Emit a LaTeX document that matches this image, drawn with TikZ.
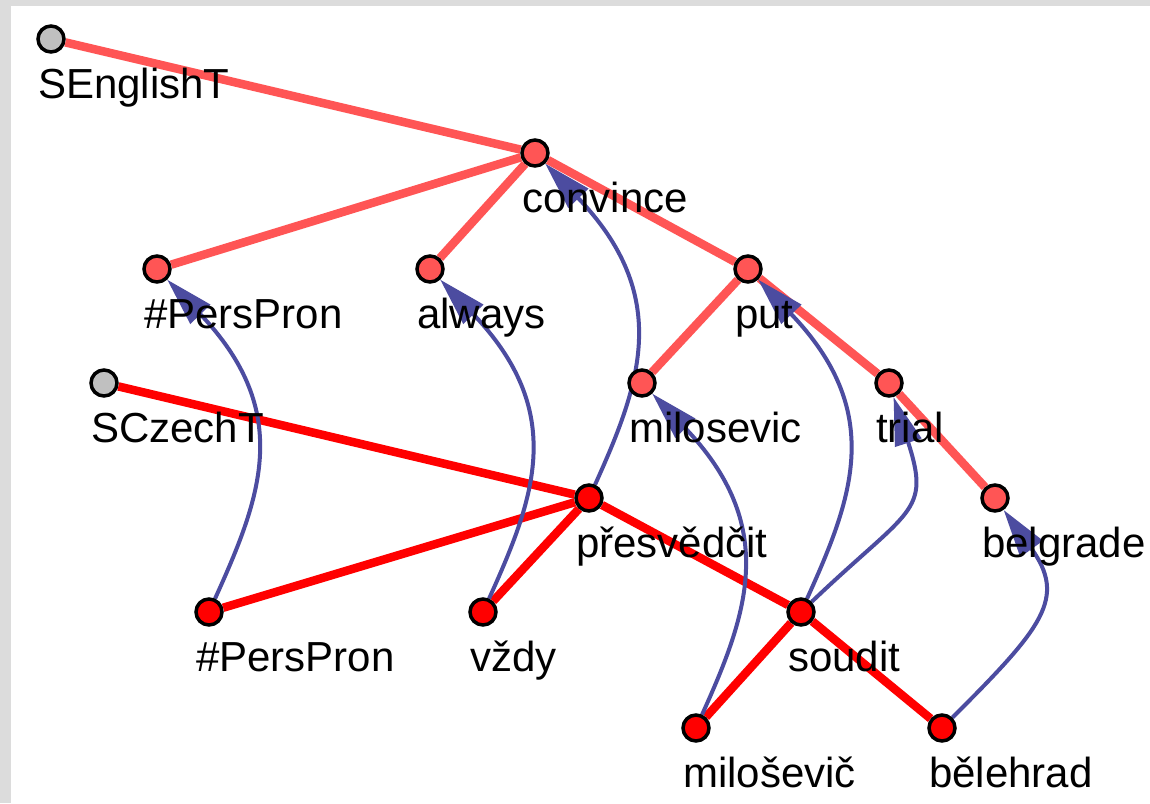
\documentclass[tikz,border=0pt]{standalone}
\usepackage{fontspec}
\setmainfont{Liberation Sans}
\usetikzlibrary{arrows.meta}
\definecolor{enred}{RGB}{255,85,85}
\definecolor{czred}{RGB}{255,0,0}
\definecolor{rootgray}{RGB}{192,192,192}
\definecolor{alblue}{RGB}{76,76,160}
\definecolor{framegray}{RGB}{220,220,220}
\pgfdeclarelayer{bg}
\pgfdeclarelayer{lines}
\pgfsetlayers{bg,lines,main}
\newcommand\treenode[5]{%
  \node[#1] (#2) at (#3,#4) {};
  \node[lbl] (#2-l) at (#3-13,#4+59) {#5};}
\begin{document}
\begin{tikzpicture}[x=1pt,y=-1pt,
  tnode/.style={circle, draw=black, line width=3.5pt, minimum size=26pt, inner sep=0pt},
  ennode/.style={tnode, fill=enred},
  cznode/.style={tnode, fill=czred},
  rootnode/.style={tnode, fill=rootgray},
  lbl/.style={anchor=base west, inner sep=0pt, font=\fontsize{42}{50}\selectfont},
  enedge/.style={draw=enred, line width=8.5pt},
  czedge/.style={draw=czred, line width=8.5pt},
  alignarrow/.style={draw=alblue, line width=4pt, -{Triangle[length=48pt,width=27pt]}},
]
\useasboundingbox (0,0) rectangle (1150,803);
\begin{pgfonlayer}{bg}
  \fill[framegray] (0,0) rectangle (1150,803);
  \fill[white] (11,6) rectangle (1150,803);
\end{pgfonlayer}

% English tree
\treenode{rootnode}{seng}{51}{39}{SEnglishT}
\treenode{ennode}{convince}{535}{153}{convince}
\treenode{ennode}{enpp}{157}{269}{\#PersPron}
\treenode{ennode}{always}{430}{269}{always}
\treenode{ennode}{put}{748}{269}{put}
\treenode{ennode}{milosevic}{642}{383}{milosevic}
\treenode{ennode}{trial}{889}{383}{trial}
\treenode{ennode}{belgrade}{995}{498}{belgrade}

% Czech tree
\treenode{rootnode}{scz}{104}{383}{SCzechT}
\treenode{cznode}{presvedcit}{589}{498}{přesvědčit}
\treenode{cznode}{czpp}{209}{612}{\#PersPron}
\treenode{cznode}{vzdy}{483}{612}{vždy}
\treenode{cznode}{soudit}{801}{612}{soudit}
\treenode{cznode}{milosevic2}{696}{728}{miloševič}
\treenode{cznode}{belehrad}{942}{728}{bělehrad}

\begin{pgfonlayer}{lines}
  % English edges
  \draw[enedge] (seng) -- (convince);
  \draw[enedge] (convince) -- (enpp);
  \draw[enedge] (convince) -- (always);
  \draw[enedge] (convince) -- (put);
  \draw[enedge] (put) -- (milosevic);
  \draw[enedge] (put) -- (trial);
  \draw[enedge] (trial) -- (belgrade);
  % Czech edges
  \draw[czedge] (scz) -- (presvedcit);
  \draw[czedge] (presvedcit) -- (czpp);
  \draw[czedge] (presvedcit) -- (vzdy);
  \draw[czedge] (presvedcit) -- (soudit);
  \draw[czedge] (soudit) -- (milosevic2);
  \draw[czedge] (soudit) -- (belehrad);
  % alignment arrows
  \draw[alignarrow] (czpp) .. controls +(52,-115) and +(137,143) .. (enpp);
  \draw[alignarrow] (vzdy) .. controls +(52,-115) and +(137,143) .. (always);
  \draw[alignarrow] (presvedcit) .. controls +(52,-115) and +(137,143) .. (convince);
  \draw[alignarrow] (milosevic2) .. controls +(52,-115) and +(137,143) .. (milosevic);
  \draw[alignarrow] (soudit) .. controls +(52,-115) and +(137,143) .. (put);
  \draw[alignarrow] (soudit) .. controls +(109,-104) and +(42,130) .. (trial);
  \draw[alignarrow] (belehrad) .. controls +(101,-101) and +(72,100) .. (belgrade);
\end{pgfonlayer}
\end{tikzpicture}
\end{document}
